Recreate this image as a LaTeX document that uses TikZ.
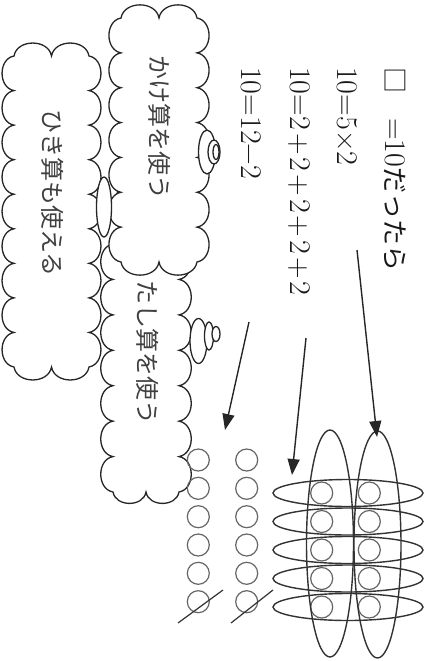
\documentclass[tikz,border=0pt]{standalone}
\usepackage{fontspec}
\newfontfamily\jp{Noto Sans CJK JP}
\usetikzlibrary{arrows.meta,shapes.geometric}
\newcommand\mycloud[6]{%
 \path[cloudln] (#1,#2)
 \foreach \i in {1,...,#5}{ to[puff] ({#1+(#3-#1)*\i/#5},#2) }
 \foreach \i in {1,...,#6}{ to[puff] (#3,{#2+(#4-#2)*\i/#6}) }
 \foreach \i in {1,...,#5}{ to[puff] ({#3-(#3-#1)*\i/#5},#4) }
 \foreach \i in {1,...,#6}{ to[puff] (#1,{#4-(#4-#2)*\i/#6}) } -- cycle;}
\newcommand\pl{\hspace{3pt}+\hspace{3pt}}
\begin{document}
\begin{tikzpicture}[x=1pt,y=-1pt,
  puff/.style={bend left=80,looseness=1.2},
  cloudln/.style={draw=black!85,line width=1.3pt,fill=white},
  bub/.style={ellipse,draw=black!85,line width=1.3pt,fill=white,inner sep=0pt},
  dot/.style={circle,draw=black!60,line width=1.2pt,minimum size=22pt,inner sep=0pt},
  hring/.style={ellipse,draw=black!80,line width=1.4pt,minimum width=150pt,minimum height=27pt,inner sep=0pt},
  vring/.style={ellipse,draw=black!80,line width=1.4pt,minimum width=47pt,minimum height=227pt,inner sep=0pt},
  eq/.style={rotate=-90,anchor=west,inner sep=0pt,text=black!90,font=\fontsize{30}{36}\selectfont},
  ctext/.style={rotate=-90,inner sep=0pt,text=black!75,font=\jp\fontsize{24}{28}\selectfont},
  arr/.style={draw=black!85,line width=1.4pt,-{Triangle[length=16pt,width=12pt]}},
  slash/.style={draw=black!80,line width=1.2pt}]
\useasboundingbox (0,0) rectangle (430,661);
\fill[white] (0,0) rectangle (430,661);

% equations
\node[eq] (c1) at (395,67) {{\jp\fontsize{26}{30}\selectfont □}\hspace{25pt}=10{\jp\fontsize{26}{30}\selectfont だったら}};
\node[eq] (c2) at (347,67) {10=5×2};
\node[eq] (c3) at (299,67) {10=2\pl2\pl2\pl2\pl2};
\node[eq] (c4) at (251,67) {10=12−2};

% clouds and thought bubbles
\mycloud{14}{56}{89}{367}{2}{9}
\node[bub,minimum width=12pt,minimum height=46pt] (b2) at (122,207) {};
\mycloud{113}{244}{179}{492}{2}{7}
\node[bub,minimum width=17pt,minimum height=45pt] (b6) at (198.5,341) {};
\node[bub,minimum width=9pt,minimum height=28pt] (b7) at (209,336) {};
\node[bub,minimum width=8pt,minimum height=15pt] (b8) at (216,334) {};
\mycloud{121}{18}{197}{262}{2}{7}
\node[bub,minimum width=15pt,minimum height=60pt] (b1) at (104,207) {};
\node[bub,minimum width=17pt,minimum height=44pt] (b3) at (207,152) {};
\node[bub,minimum width=12pt,minimum height=24pt] (b4) at (214,152) {};
\node[bub,minimum width=6pt,minimum height=15pt] (b5) at (216,152) {};
\node[ctext] (t1) at (53,193) {ひき算も使える};
\node[ctext] (t2) at (160,128) {かけ算を使う};
\node[ctext] (t3) at (148,352) {たし算を使う};

% left circles
\foreach \r/\y in {1/460,2/488.3,3/516.7,4/545,5/573.3,6/601.7}{
  \node[dot] (a\r) at (198.3,\y) {};
  \node[dot] (b\r) at (246.7,\y) {};
}
\coordinate (s1a) at (178,623); \coordinate (s1b) at (223,590);
\coordinate (s2a) at (231,623); \coordinate (s2b) at (273,590);
\draw[slash] (s1a) -- (s1b);
\draw[slash] (s2a) -- (s2b);

% right group
\foreach \r/\y in {1/493,2/521.5,3/550,4/578.5,5/607}{
  \node[dot] (p\r) at (321.7,\y) {};
  \node[dot] (q\r) at (369.3,\y) {};
  \node[hring] (h\r) at (348,\y) {};
}
\node[vring] (v1) at (330,543.5) {};
\node[vring] (v2) at (377.5,544.5) {};

% arrows
\coordinate (o1) at (357,250); \coordinate (e1) at (377,437);
\coordinate (o2) at (306,338); \coordinate (e2) at (292,475);
\coordinate (o3) at (249,322); \coordinate (e3) at (225,430);
\draw[arr] (o1) -- (e1);
\draw[arr] (o2) -- (e2);
\draw[arr] (o3) -- (e3);
\end{tikzpicture}
\end{document}
